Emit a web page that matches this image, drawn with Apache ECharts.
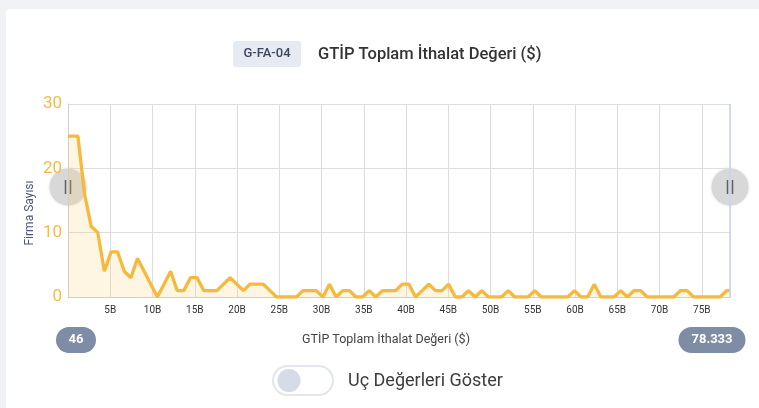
<!DOCTYPE html>
<html>
<head>
<meta charset="utf-8">
<script src="https://cdn.jsdelivr.net/npm/echarts@6/dist/echarts.min.js"></script>
<style>
  html, body { margin: 0; padding: 0; background: #f1f2f6; }
  #chart { width: 759px; height: 408px; }
</style>
</head>
<body>
<div id="chart"></div>
<script>
// Firm counts per import-value bin (100 equal-width bins across the range)
const firmCounts = [
  25, 25, 16, 11, 10, 4, 7, 7, 4, 3,
  6, 4, 2, 0, 2, 4, 1, 1, 3, 3,
  1, 1, 1, 2, 3, 2, 1, 2, 2, 2,
  1, 0, 0, 0, 0, 1, 1, 1, 0, 2,
  0, 1, 1, 0, 0, 1, 0, 1, 1, 1,
  2, 2, 0, 1, 2, 1, 1, 2, 0, 0,
  1, 0, 1, 0, 0, 0, 1, 0, 0, 0,
  1, 0, 0, 0, 0, 0, 1, 0, 0, 2,
  0, 0, 0, 1, 0, 1, 1, 0, 0, 0,
  0, 0, 1, 1, 0, 0, 0, 0, 0, 1
];
const rangeMin = 46;
const rangeMax = 78333000000;
const rangeMinLabel = '46';
const rangeMaxLabel = '78.333';
const yTicks = [0, 10, 20, 30];
const chartTitle = 'GTİP Toplam İthalat Değeri ($)';
const chartCode = 'G-FA-04';
const xName = 'GTİP Toplam İthalat Değeri ($)';
const yName = 'Firma Sayısı';
const toggleText = 'Uç Değerleri Göster';

// points at bin centres, with the range ends carrying the edge bins
const binWidth = (rangeMax - rangeMin) / firmCounts.length;
const points = [[rangeMin, firmCounts[0]]]
  .concat(firmCounts.map((v, i) => [rangeMin + (i + 0.5) * binWidth, v]))
  .concat([[rangeMax, firmCounts[firmCounts.length - 1]]]);

const G = { left: 68, right: 29, top: 104, bottom: 111 };
const W = 759, H = 408;
const gridRight = W - G.right;
const gridBottom = H - G.bottom;
const handleY = 187;

function handle(cx) {
  return {
    type: 'group',
    z: 100,
    children: [
      { type: 'circle', shape: { cx: cx, cy: handleY, r: 18.5 },
        style: { fill: '#d8d8d8', shadowBlur: 3, shadowColor: 'rgba(0,0,0,0.15)' } },
      { type: 'line', shape: { x1: cx - 2.5, y1: handleY - 7, x2: cx - 2.5, y2: handleY + 7 },
        style: { stroke: '#5f5f5f', lineWidth: 1.5 } },
      { type: 'line', shape: { x1: cx + 2.5, y1: handleY - 7, x2: cx + 2.5, y2: handleY + 7 },
        style: { stroke: '#5f5f5f', lineWidth: 1.5 } }
    ]
  };
}

function pill(cx, cy, w, text) {
  return {
    type: 'group',
    z: 100,
    children: [
      { type: 'rect', shape: { x: cx - w / 2, y: cy - 13, width: w, height: 26, r: 13 },
        style: { fill: '#7f8ca5' } },
      { type: 'text', x: cx, y: cy,
        style: { text: text, fill: '#fff', font: 'bold 13px Roboto', align: 'center', verticalAlign: 'middle' } }
    ]
  };
}

const chart = echarts.init(document.getElementById('chart'), null, { renderer: 'canvas' });
chart.setOption({
  backgroundColor: '#f1f2f6',
  animation: false,
  textStyle: { fontFamily: 'Roboto' },
  grid: G,
  xAxis: {
    type: 'value',
    min: 0,
    max: rangeMax,
    interval: 5000000000,
    axisLine: { show: true, lineStyle: { color: '#cfcfcf' } },
    axisTick: { show: false },
    splitLine: { show: true, lineStyle: { color: '#dddddd' } },
    axisLabel: {
      showMinLabel: false,
      showMaxLabel: false,
      fontSize: 10,
      color: '#333',
      margin: 8,
      formatter: v => (v / 1e9) + 'B'
    }
  },
  yAxis: {
    type: 'value',
    min: yTicks[0],
    max: yTicks[yTicks.length - 1],
    interval: yTicks[1] - yTicks[0],
    axisLine: { show: true, lineStyle: { color: '#cfcfcf' } },
    axisTick: { show: false },
    splitLine: { lineStyle: { color: '#dddddd' } },
    axisLabel: { fontSize: 17, color: '#f7bb45', margin: 6 }
  },
  series: [{
    type: 'line',
    data: points,
    showSymbol: false,
    smooth: false,
    lineStyle: { width: 3.3, color: '#f6b93b' },
    itemStyle: { color: '#f6b93b' },
    areaStyle: { color: 'rgba(248,196,90,0.25)' }
  }],
  graphic: [
    // card
    { type: 'rect', z: -10, shape: { x: 6, y: 9, width: W - 6, height: H - 9, r: [4, 0, 0, 0] },
      style: { fill: '#ffffff' } },
    // title
    { type: 'rect', shape: { x: 233, y: 41, width: 68, height: 26, r: 3 },
      style: { fill: '#e6eaf2' } },
    { type: 'text', x: 267, y: 54,
      style: { text: chartCode, fill: '#3d4760', font: '500 13px Roboto', align: 'center', verticalAlign: 'middle' } },
    { type: 'text', x: 318, y: 55,
      style: { text: chartTitle, fill: '#333', font: '500 16.5px Roboto', align: 'left', verticalAlign: 'middle' } },
    // y-axis caption
    { type: 'text', x: 30, y: 213, rotation: Math.PI / 2,
      style: { text: yName, fill: '#4b587a', font: '12px Roboto', align: 'center', verticalAlign: 'middle' } },
    // right boundary of the selected range
    { type: 'line', z: 50, shape: { x1: gridRight, y1: G.top, x2: gridRight, y2: gridBottom },
      style: { stroke: '#c3d3f2', lineWidth: 1.5 } },
    handle(G.left),
    handle(gridRight),
    pill(76, 340, 40, rangeMinLabel),
    pill(712, 340, 67, rangeMaxLabel),
    { type: 'text', x: 386, y: 340,
      style: { text: xName, fill: '#444', font: '12.5px Roboto', align: 'center', verticalAlign: 'middle' } },
    // toggle
    { type: 'rect', shape: { x: 273, y: 366, width: 60, height: 29, r: 14.5 },
      style: { fill: '#fff', stroke: '#e3e6ee', lineWidth: 2 } },
    { type: 'circle', shape: { cx: 289, cy: 380.5, r: 11.5 },
      style: { fill: '#d6dbe7' } },
    { type: 'text', x: 348, y: 381,
      style: { text: toggleText, fill: '#3c3c3c', font: '18px Roboto', align: 'left', verticalAlign: 'middle' } }
  ]
});
</script>
</body>
</html>
